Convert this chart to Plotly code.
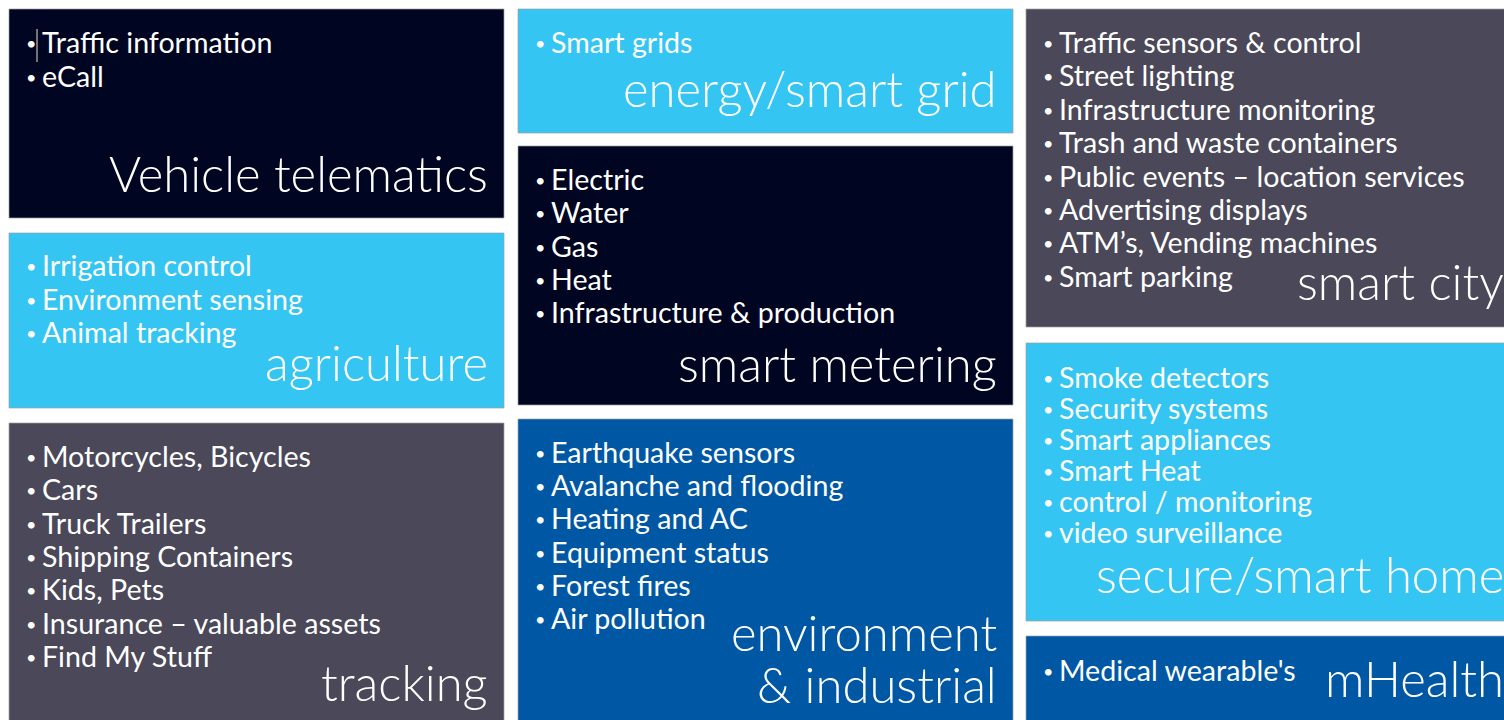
import plotly.graph_objects as go

# ---- data ----
categories = ["Vehicle telematics", "agriculture", "tracking",
              "energy/smart grid", "smart metering", "environment\n& industrial",
              "smart city", "secure/smart home", "mHealth"]
items_vehicle = ["Traffic information", "eCall"]
items_agriculture = ["Irrigation control", "Environment sensing", "Animal tracking"]
items_tracking = ["Motorcycles, Bicycles", "Cars", "Truck Trailers", "Shipping Containers",
                  "Kids, Pets", "Insurance – valuable assets", "Find My Stuff"]
items_energy = ["Smart grids"]
items_metering = ["Electric", "Water", "Gas", "Heat", "Infrastructure & production"]
items_environment = ["Earthquake sensors", "Avalanche and flooding", "Heating and AC",
                     "Equipment status", "Forest fires", "Air pollution"]
items_city = ["Traffic sensors & control", "Street lighting", "Infrastructure monitoring",
              "Trash and waste containers", "Public events – location services",
              "Advertising displays", "ATM’s, Vending machines", "Smart parking"]
items_home = ["Smoke detectors", "Security systems", "Smart appliances", "Smart Heat",
              "control / monitoring", "video surveillance"]
items_health = ["Medical wearable's"]
tile_items = [items_vehicle, items_agriculture, items_tracking, items_energy, items_metering,
              items_environment, items_city, items_home, items_health]

# ---- layout / styles (pixels) ----
W, H = 1504, 720
NAVY, CYAN, GRAY, BLUE = "#000521", "#35C5F3", "#4A4859", "#0058A5"
# x0, x1, y0, y1, color, first item y, item step, title baseline(s)
tiles = [
    (9, 504, 9, 218, NAVY, 42, 34, [192]),
    (9, 504, 233, 408, CYAN, 265, 33.5, [381]),
    (9, 504, 423, 740, GRAY, 456, 33.3, [701]),
    (518, 1013, 9, 133, CYAN, 42, 33, [107]),
    (518, 1013, 146, 405, NAVY, 179, 33.3, [382]),
    (518, 1013, 419, 740, BLUE, 452, 33.2, [651, 703]),
    (1026, 1520, 9, 327, GRAY, 42, 33.4, [300]),
    (1026, 1520, 343, 621, CYAN, 377, 31, [593]),
    (1026, 1520, 636, 740, BLUE, 670, 33, [697]),
]
ITEM_SIZE, TITLE_SIZE = 28.6, 49
FONT = "Lato"

fig = go.Figure()
shapes, annotations = [], []
for cat, items, t in zip(categories, tile_items, tiles):
    x0, x1, y0, y1, col, iy, dy, tb = t
    shapes.append(dict(type="rect", xref="x", yref="y", x0=x0, x1=x1, y0=y0, y1=y1,
                       fillcolor=col, line=dict(color="rgba(160,160,160,0.7)", width=1),
                       layer="below"))
    for k, it in enumerate(items):
        yy = iy + k * dy
        annotations.append(dict(x=x0 + 22, y=yy + 1, xref="x", yref="y", text="•",
                                showarrow=False, xanchor="center", yanchor="middle",
                                font=dict(family=FONT, size=18, color="white")))
        annotations.append(dict(x=x0 + 31, y=yy, xref="x", yref="y",
                                text=it, showarrow=False, xanchor="left",
                                yanchor="middle", align="left",
                                font=dict(family=FONT, size=ITEM_SIZE, color="white")))
    for line, b in zip(cat.split("\n"), tb):
        # paper coordinates so titles running past the right edge are clipped, not hidden
        annotations.append(dict(x=(x1 - 14) / W, y=1 - (b - 3 - 0.32 * TITLE_SIZE) / H,
                                xref="paper", yref="paper",
                                text=line, showarrow=False, xanchor="right",
                                yanchor="middle", align="right",
                                font=dict(family=FONT, size=TITLE_SIZE, color="white",
                                          weight=300)))

# text cursor artifact in first tile
shapes.append(dict(type="line", xref="x", yref="y", x0=37, x1=37, y0=29, y1=62,
                   line=dict(color="#E8E0C8", width=1)))

fig.update_layout(
    width=W, height=H, margin=dict(l=0, r=0, t=0, b=0),
    paper_bgcolor="white", plot_bgcolor="white",
    xaxis=dict(range=[0, W], visible=False, fixedrange=True),
    yaxis=dict(range=[H, 0], visible=False, fixedrange=True),
    shapes=shapes, annotations=annotations, showlegend=False,
)
fig.write_html("out.html", config={"displayModeBar": False},
               post_script="document.body.style.margin='0px';document.body.style.overflow='hidden';")
